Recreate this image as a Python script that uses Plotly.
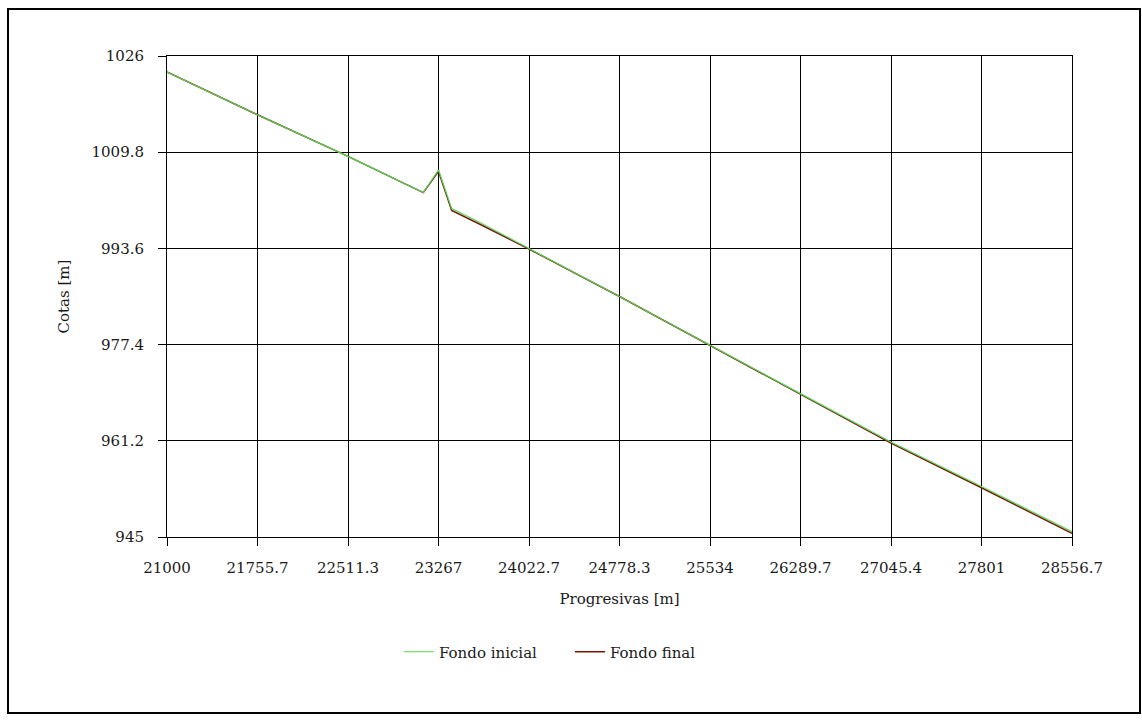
import plotly.graph_objects as go

# Data
x_ticks = [21000, 21755.7, 22511.3, 23267, 24022.7, 24778.3, 25534, 26289.7, 27045.4, 27801, 28556.7]
x_tick_text = ["21000", "21755.7", "22511.3", "23267", "24022.7", "24778.3", "25534", "26289.7", "27045.4", "27801", "28556.7"]
y_ticks = [945, 961.2, 977.4, 993.6, 1009.8, 1026]
y_tick_text = ["945", "961.2", "977.4", "993.6", "1009.8", "1026"]

prog_inicial = [21000, 21755.7, 22511.3, 23140, 23267, 23377, 23600, 24022.7, 24778.3, 25534, 26289.7, 27045.4, 27801, 28556.7]
fondo_inicial = [1023.3, 1016.1, 1009.1, 1003.0, 1006.8, 1000.3, 998.1, 993.6, 985.5, 977.3, 969.2, 961.0, 953.5, 945.9]

prog_final = [21000, 21755.7, 22511.3, 23140, 23267, 23377, 23600, 24022.7, 24778.3, 25534, 26289.7, 27045.4, 27801, 28556.7]
fondo_final = [1023.3, 1016.1, 1009.1, 1003.0, 1006.6, 1000.0, 997.8, 993.5, 985.5, 977.3, 969.1, 960.8, 953.3, 945.6]

FONT = "DejaVu Serif"
TXT = "#1a1a1a"
FS = 15

fig = go.Figure()
fig.add_trace(go.Scatter(x=prog_final, y=fondo_final, mode="lines", name="Fondo final",
                         line=dict(color="#7a1508", width=1.5), legendrank=2))
fig.add_trace(go.Scatter(x=prog_inicial, y=fondo_inicial, mode="lines", name="Fondo inicial",
                         line=dict(color="#55d655", width=1.2), legendrank=1))

axis_common = dict(showline=True, linecolor="black", linewidth=1, mirror=True,
                   showgrid=True, gridcolor="black", gridwidth=1, zeroline=False,
                   ticks="outside", ticklen=8, tickcolor="black",
                   tickfont=dict(family=FONT, size=FS, color=TXT))

fig.update_xaxes(range=[21000, 28556.7], tickvals=x_ticks, ticktext=x_tick_text,
                 ticklabelstandoff=9,
                 title=dict(text="Progresivas [m]", font=dict(family=FONT, size=FS, color=TXT), standoff=17),
                 **axis_common)
fig.update_yaxes(range=[945, 1026], tickvals=y_ticks, ticktext=y_tick_text,
                 ticklabelstandoff=11,
                 title=dict(text="Cotas [m]", font=dict(family=FONT, size=FS, color=TXT), standoff=18),
                 **axis_common)

L, R, T, B = 167, 1072, 56, 537
W, H = 1142, 722
def px_to_paper_x(px):
    return (px - L) / (R - L)
def px_to_paper_y(py):
    return (B - py) / (B - T)

fig.add_shape(type="rect", xref="paper", yref="paper",
              x0=px_to_paper_x(8), x1=px_to_paper_x(1140),
              y0=px_to_paper_y(713), y1=px_to_paper_y(9),
              line=dict(color="black", width=2), fillcolor="rgba(0,0,0,0)", layer="below")

fig.update_layout(
    width=W, height=H,
    margin=dict(l=L, r=W - R, t=T, b=H - B),
    paper_bgcolor="white", plot_bgcolor="white",
    font=dict(family=FONT, size=FS, color=TXT),
    showlegend=True,
    legend=dict(orientation="h", xref="paper", x=px_to_paper_x(399), xanchor="left",
                yref="container", y=1 - 652 / H, yanchor="middle",
                font=dict(family=FONT, size=FS, color=TXT),
                entrywidth=126, entrywidthmode="pixels",
                itemwidth=30, bgcolor="rgba(0,0,0,0)"),
)

fig.write_html("out.html")
